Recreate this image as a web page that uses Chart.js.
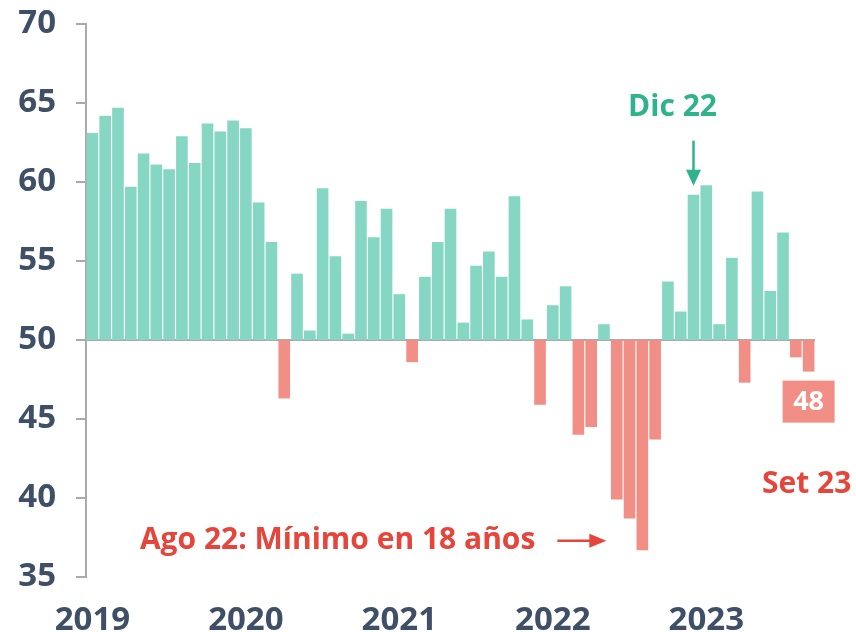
<!DOCTYPE html>
<html>
<head>
<meta charset="utf-8">
<script src="https://cdn.jsdelivr.net/npm/chart.js@4.4.0/dist/chart.umd.min.js"></script>
<style>
  html, body { margin: 0; padding: 0; background: #fff; }
  #wrap { width: 856px; height: 632px; position: relative; }
</style>
</head>
<body>
<div id="wrap"><canvas id="c" width="856" height="632"></canvas></div>
<script>
// Monthly values Jan 2019 .. Sep 2023
const months = [
  '2019-01','2019-02','2019-03','2019-04','2019-05','2019-06','2019-07','2019-08','2019-09','2019-10','2019-11','2019-12',
  '2020-01','2020-02','2020-03','2020-04','2020-05','2020-06','2020-07','2020-08','2020-09','2020-10','2020-11','2020-12',
  '2021-01','2021-02','2021-03','2021-04','2021-05','2021-06','2021-07','2021-08','2021-09','2021-10','2021-11','2021-12',
  '2022-01','2022-02','2022-03','2022-04','2022-05','2022-06','2022-07','2022-08','2022-09','2022-10','2022-11','2022-12',
  '2023-01','2023-02','2023-03','2023-04','2023-05','2023-06','2023-07','2023-08','2023-09'
];
const values = [
  63.1, 64.2, 64.7, 59.7, 61.8, 61.1, 60.8, 62.9, 61.2, 63.7, 63.2, 63.9,
  63.4, 58.7, 56.2, 46.3, 54.2, 50.6, 59.6, 55.3, 50.4, 58.8, 56.5, 58.3,
  52.9, 48.6, 54.0, 56.2, 58.3, 51.1, 54.7, 55.6, 54.0, 59.1, 51.3, 45.9,
  52.2, 53.4, 44.0, 44.5, 51.0, 39.9, 38.7, 36.7, 43.7, 53.7, 51.8, 59.2,
  59.8, 51.0, 55.2, 47.3, 59.4, 53.1, 56.8, 48.9, 48.0
];
const baseValue = 50;
const yTicks = [35, 40, 45, 50, 55, 60, 65, 70];
const yearLabels = ['2019', '2020', '2021', '2022', '2023'];
const noteDec = { month: '2022-12', text: 'Dic 22' };
const noteAug = { month: '2022-08', text: 'Ago 22: Mínimo en 18 años', y: 37.3 };
const noteLast = { month: '2023-09', text: 'Set 23', label: '48' };

const GREEN = '#85d7c3';
const RED = '#f18e85';
const AXIS = '#aaaaaa';
const SLATE = '#3e4f66';
const TEAL_TXT = '#2fb38c';
const RED_TXT = '#e5453a';
const FONT = '"Open Sans", "DejaVu Sans", sans-serif';

const annot = {
  id: 'annot',
  afterDraw(chart) {
    const ctx = chart.ctx;
    const xs = chart.scales.x, ys = chart.scales.y;
    ctx.save();
    // Dic 22
    const iD = months.indexOf(noteDec.month);
    const xD = xs.getPixelForValue(iD);
    const topD = ys.getPixelForValue(values[iD]);
    ctx.fillStyle = TEAL_TXT;
    ctx.strokeStyle = TEAL_TXT;
    ctx.font = 'bold 30px ' + FONT;
    ctx.textAlign = 'center';
    ctx.textBaseline = 'middle';
    ctx.fillText(noteDec.text, xD - 21, topD - 87);
    ctx.lineWidth = 2.5;
    ctx.beginPath();
    ctx.moveTo(xD, topD - 54);
    ctx.lineTo(xD, topD - 22);
    ctx.stroke();
    ctx.beginPath();
    ctx.moveTo(xD - 7.5, topD - 25);
    ctx.lineTo(xD + 7.5, topD - 25);
    ctx.lineTo(xD, topD - 9);
    ctx.closePath();
    ctx.fill();

    // Ago 22
    const iA = months.indexOf(noteAug.month);
    const xA = xs.getPixelForValue(iA);
    const yA = ys.getPixelForValue(noteAug.y);
    ctx.fillStyle = RED_TXT;
    ctx.strokeStyle = RED_TXT;
    ctx.font = 'bold 30px ' + FONT;
    ctx.textAlign = 'right';
    ctx.fillText(noteAug.text, xA - 107, yA);
    ctx.lineWidth = 2.5;
    ctx.beginPath();
    ctx.moveTo(xA - 85, yA);
    ctx.lineTo(xA - 50, yA);
    ctx.stroke();
    ctx.beginPath();
    ctx.moveTo(xA - 53, yA - 7);
    ctx.lineTo(xA - 53, yA + 7);
    ctx.lineTo(xA - 36, yA);
    ctx.closePath();
    ctx.fill();

    // Last value box + Set 23
    const iL = months.indexOf(noteLast.month);
    const xL = xs.getPixelForValue(iL);
    const botL = ys.getPixelForValue(values[iL]);
    ctx.fillStyle = RED;
    ctx.fillRect(xL - 26, botL + 9, 52, 42);
    ctx.fillStyle = '#ffffff';
    ctx.font = 'bold 27px ' + FONT;
    ctx.textAlign = 'center';
    ctx.fillText(noteLast.label, xL, botL + 31);
    ctx.fillStyle = RED_TXT;
    ctx.font = 'bold 30px ' + FONT;
    ctx.fillText(noteLast.text, xL - 2, botL + 113);
    ctx.restore();
  }
};

new Chart(document.getElementById('c'), {
  type: 'bar',
  data: {
    labels: months,
    datasets: [{
      data: values.map(v => [baseValue, v]),
      backgroundColor: values.map(v => v >= baseValue ? GREEN : RED),
      borderWidth: 0,
      barPercentage: 0.91,
      categoryPercentage: 1.0
    }]
  },
  options: {
    responsive: false,
    animation: false,
    devicePixelRatio: 1,
    layout: { padding: { top: 24, right: 41, left: 0, bottom: 0 } },
    plugins: { legend: { display: false }, tooltip: { enabled: false } },
    scales: {
      x: {
        offset: true,
        grid: { display: false },
        border: { display: false },
        ticks: {
          autoSkip: false,
          maxRotation: 0,
          minRotation: 0,
          padding: 16,
          color: SLATE,
          font: { family: FONT, size: 33, weight: 'bold' },
          callback: function(val, idx) {
            const m = months[idx];
            return m.endsWith('-01') && yearLabels.includes(m.slice(0, 4)) ? m.slice(0, 4) : '';
          }
        },
        afterFit(scale) {
          scale.height = 55;
          scale.paddingLeft = 0; scale.paddingRight = 0;
        }
      },
      y: {
        min: 35,
        max: 70,
        afterBuildTicks(scale) { scale.ticks = yTicks.map(v => ({ value: v })); },
        grid: {
          drawOnChartArea: true,
          color: ctx => (ctx.tick && ctx.tick.value === baseValue) ? AXIS : 'rgba(0,0,0,0)',
          tickColor: AXIS,
          tickLength: 10,
          lineWidth: 2
        },
        border: { display: true, color: AXIS, width: 2 },
        ticks: {
          padding: 20,
          color: SLATE,
          font: { family: FONT, size: 33, weight: 'bold' }
        },
        afterFit(scale) {
          scale.width = 86;
          scale.paddingTop = 0; scale.paddingBottom = 0;
        }
      }
    }
  },
  plugins: [annot]
});
</script>
</body>
</html>
